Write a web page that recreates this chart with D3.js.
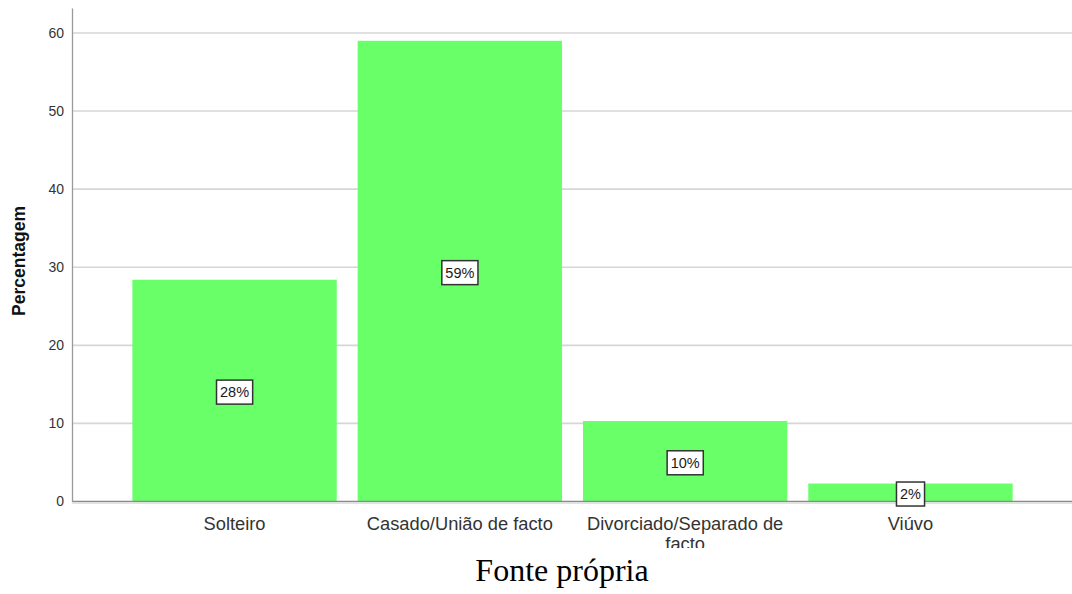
<!DOCTYPE html>
<html>
<head>
<meta charset="utf-8">
<script src="https://cdn.jsdelivr.net/npm/d3@7"></script>
<style>
html,body{margin:0;padding:0;background:#fff;}
svg{display:block;}
</style>
</head>
<body>
<svg id="chart" width="1072" height="594"></svg>
<script>
const categories = ["Solteiro", "Casado/União de facto", "Divorciado/Separado de facto", "Viúvo"];
const values = [28.4, 59.0, 10.3, 2.3];
const valueLabels = ["28%", "59%", "10%", "2%"];
const yTicks = [0, 10, 20, 30, 40, 50, 60];
const yTitle = "Percentagem";
const caption = "Fonte própria";

const svg = d3.select("#chart");
const W = 1072, H = 594;
const axisX = 72;
const sans = "Arial, 'Liberation Sans', sans-serif";

const y = d3.scaleLinear().domain([0, 63.2]).range([501.5, 8]);
const x = d3.scaleBand().domain(categories).range([122, 1023]).paddingInner(0.093).paddingOuter(0.046);

// gridlines
svg.append("g").selectAll("line").data(yTicks.filter(d => d > 0)).join("line")
  .attr("x1", axisX).attr("x2", W)
  .attr("y1", d => y(d)).attr("y2", d => y(d))
  .attr("stroke", "#d6d6d6").attr("stroke-width", 1.6);

// bars
svg.append("g").selectAll("rect").data(categories).join("rect")
  .attr("x", d => x(d))
  .attr("width", x.bandwidth())
  .attr("y", (d, i) => y(values[i]))
  .attr("height", (d, i) => y(0) - y(values[i]))
  .attr("fill", "#69ff69");

// baseline
svg.append("line").attr("x1", axisX).attr("x2", W)
  .attr("y1", y(0)).attr("y2", y(0))
  .attr("stroke", "#8a8a8a").attr("stroke-width", 1.3);
svg.append("line").attr("x1", axisX).attr("x2", W)
  .attr("y1", y(0) + 2).attr("y2", y(0) + 2)
  .attr("stroke", "#e2e2e2").attr("stroke-width", 1);

// y axis
const yAxis = d3.axisLeft(y).tickValues(yTicks).tickSize(0).tickPadding(8);
const ga = svg.append("g").attr("transform", `translate(${axisX},0)`).call(yAxis);
ga.select(".domain").attr("stroke", "#9a9a9a").attr("stroke-width", 1.3);
ga.selectAll("text").attr("font-family", sans)
  .attr("font-size", 14).attr("fill", "#333");

// y title
svg.append("text")
  .attr("transform", `translate(25,261) rotate(-90)`)
  .attr("text-anchor", "middle")
  .attr("font-family", sans)
  .attr("font-size", 17.5).attr("font-weight", "bold").attr("fill", "#111")
  .text(yTitle);

// value labels
const lbl = svg.append("g").selectAll("g").data(categories).join("g")
  .attr("transform", (d, i) => `translate(${x(d) + x.bandwidth() / 2},${(y(0) + y(values[i])) / 2 + 1.5})`);
lbl.each(function(d, i) {
  const g = d3.select(this);
  const t = g.append("text")
    .attr("text-anchor", "middle").attr("dy", "0.36em")
    .attr("font-family", sans)
    .attr("font-size", 14.5).attr("fill", "#1a1a1a")
    .text(valueLabels[i]);
  const bb = t.node().getBBox();
  g.insert("rect", "text")
    .attr("x", bb.x - 3.5).attr("y", -12)
    .attr("width", bb.width + 7).attr("height", 24)
    .attr("fill", "#fff").attr("stroke", "#333").attr("stroke-width", 1.5);
});

// category labels (clipped at bottom)
svg.append("defs").append("clipPath").attr("id", "catclip")
  .append("rect").attr("x", 0).attr("y", 505).attr("width", W).attr("height", 43);
const cats = svg.append("g").attr("clip-path", "url(#catclip)");
const lines = {"Divorciado/Separado de facto": ["Divorciado/Separado de", "facto"]};
cats.selectAll("text").data(categories).join("text")
  .attr("x", d => x(d) + x.bandwidth() / 2)
  .attr("y", 530)
  .attr("text-anchor", "middle")
  .attr("font-family", sans)
  .attr("font-size", 18.3).attr("fill", "#333")
  .each(function(d) {
    const parts = lines[d] || [d];
    d3.select(this).selectAll("tspan").data(parts).join("tspan")
      .attr("x", x(d) + x.bandwidth() / 2)
      .attr("dy", (p, j) => j === 0 ? 0 : 20)
      .text(p => p);
  });

// caption
svg.append("text")
  .attr("x", 562).attr("y", 581)
  .attr("text-anchor", "middle")
  .attr("font-family", "'Times New Roman', 'Liberation Serif', serif")
  .attr("font-size", 32).attr("fill", "#000")
  .text(caption);
</script>
</body>
</html>
